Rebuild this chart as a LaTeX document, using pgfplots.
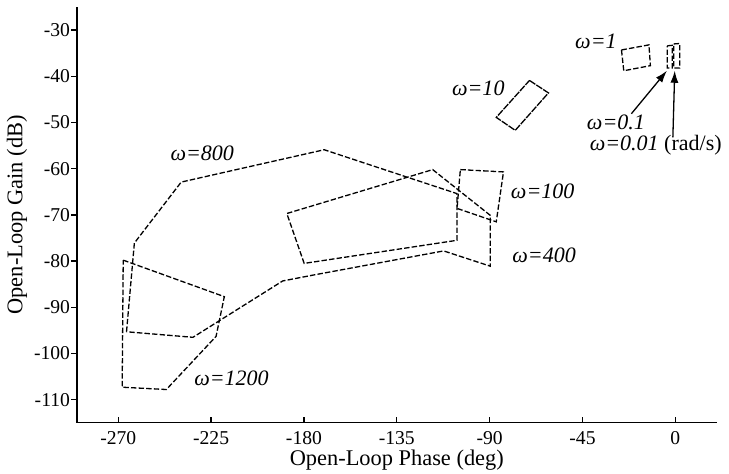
\documentclass[border=0pt]{standalone}
\usepackage{pgfplots}
\pgfplotsset{compat=1.18}
\usetikzlibrary{arrows.meta}
\usepackage{fontspec}
\setmainfont{Liberation Serif}

\begin{document}
\begin{tikzpicture}[
    tpl/.style={black, line width=0.65pt, dash pattern=on 2.7pt off 1.1pt, mark=none},
    arr/.style={black, line width=0.65pt, solid, mark=none, -{Latex[length=6pt,width=4pt]}},
    wlab/.style={font=\fontsize{11}{13}\selectfont\itshape, inner sep=0pt},
]
\begin{axis}[
    scale only axis,
    width=319.8pt, height=207.9pt,
    xmin=-290, xmax=20, ymin=-115, ymax=-25,
    axis x line*=bottom, axis y line*=left,
    axis line style={-, line width=0.65pt},
    xtick={-270,-225,...,0},
    ytick={-110,-100,...,-30},
    tick align=inside,
    major tick length=2.8pt,
    tick style={line width=0.65pt, black},
    ytick style={xshift=-2.8pt},
    ticklabel style={font=\fontsize{9.8}{11}\selectfont},
    xticklabel style={yshift=-0.8pt},
    /pgf/number format/assume math mode=true,
    xlabel={Open-Loop Phase (deg)},
    ylabel={Open-Loop Gain (dB)},
    label style={font=\fontsize{11.2}{13}\selectfont},
    xlabel style={at={(axis description cs:0.5,-0.091)}, anchor=center},
    ylabel style={at={(axis description cs:-0.094,0.5)}, anchor=center},
    clip=false,
]
% omega = 800 / 400 outline
\addplot[tpl] coordinates {
    (-266.0,-95.3) (-262.2,-76.1) (-239.5,-62.9) (-170.2,-55.9)
    (-105.8,-65.4) (-105.8,-75.5) (-179.9,-80.5) (-188.3,-69.7)
    (-117.6,-60.2) (-89.7,-70.1) (-89.7,-81.1) (-112.3,-77.8)
    (-175.2,-83.0) (-190.3,-84.3) (-233.8,-96.5) (-266.0,-95.3)
};
% omega = 1200
\addplot[tpl] coordinates {
    (-267.6,-79.8) (-218.6,-87.7) (-222.6,-96.3) (-246.7,-107.8)
    (-268.1,-107.3) (-267.6,-79.8)
};
% omega = 100
\addplot[tpl] coordinates {
    (-104.2,-60.2) (-83.3,-60.7) (-86.8,-71.5) (-105.8,-68.6) (-104.2,-60.2)
};
% omega = 10
\addplot[tpl, dash pattern=on 3.5pt off 0.6pt] coordinates {
    (-70.7,-40.9) (-61.5,-43.6) (-77.6,-51.7) (-86.8,-48.9) (-70.7,-40.9)
};
% omega = 1
\addplot[tpl] coordinates {
    (-26.1,-34.3) (-12.8,-33.2) (-12.1,-37.7) (-25.0,-38.8) (-26.1,-34.3)
};
% omega = 0.1
\addplot[tpl] coordinates {
    (-3.9,-33.4) (-1.5,-33.3) (-1.5,-38.2) (-3.9,-38.2) (-3.9,-33.4)
};
% omega = 0.01
\addplot[tpl] coordinates {
    (-0.8,-33.0) (2.1,-32.9) (2.1,-38.2) (-0.8,-38.2) (-0.8,-33.0)
};
% arrows
\addplot[arr] coordinates {(-21.3,-48.1) (-4.1,-38.8)};
\addplot[arr] coordinates {(-1.2,-53.2) (-0.3,-38.8)};

\node[wlab] at (axis cs:-229.3,-56.6) {ω=800};
\node[wlab] at (axis cs:-64.3,-64.8) {ω=100};
\node[wlab] at (axis cs:-63.6,-78.8) {ω=400};
\node[wlab] at (axis cs:-215.1,-105.3) {ω=1200};
\node[wlab] at (axis cs:-95.5,-42.7) {ω=10};
\node[wlab] at (axis cs:-38.5,-32.5) {ω=1};
\node[wlab] at (axis cs:-28.8,-49.9) {ω=0.1};
\node[wlab, font=\fontsize{11}{13}\selectfont] at (axis cs:-9.5,-55.0) {\textit{ω=0.01} (rad/s)};
\end{axis}
\pgfresetboundingbox
\useasboundingbox ([xshift=-38.5pt,yshift=-25.6pt]current axis.south west) rectangle ([xshift=6.2pt,yshift=3.5pt]current axis.north east);
\end{tikzpicture}
\end{document}
